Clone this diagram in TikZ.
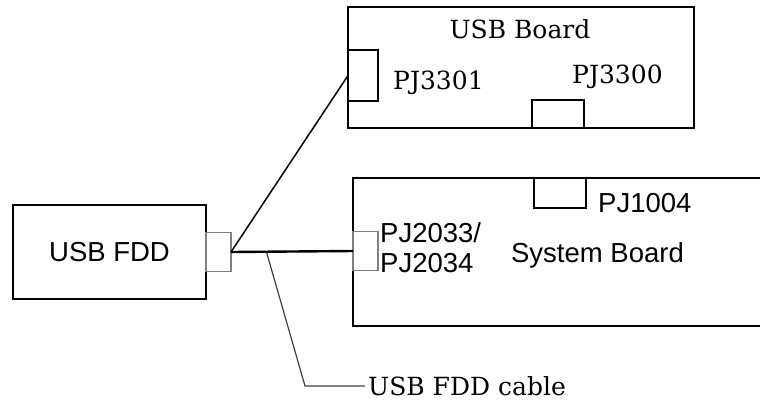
\documentclass[tikz,border=0pt]{standalone}
\usepackage{fontspec}
\newfontfamily\arialfont{Liberation Sans}
\newfontfamily\centfont{DejaVu Serif}
\usetikzlibrary{positioning,calc}
\tikzset{
  board/.style={rectangle, draw=black, line width=#1, fill=white, inner sep=0pt, outer sep=0pt},
  plug/.style={rectangle, draw=#1, line width=1.2pt, inner sep=0pt, outer sep=0pt},
  wire/.style={line width=#1, draw=black},
  lead/.style={line width=1.2pt, draw=black!75},
  sanslab/.style={font=\arialfont\fontsize{27.5}{31}\selectfont, inner sep=0pt},
  seriflab/.style={font=\centfont\fontsize{25}{29}\selectfont, inner sep=0pt},
}
\begin{document}
\begin{tikzpicture}[x=1pt, y=-1pt]
  \useasboundingbox (0,0) rectangle (760,402);
  \clip (0,0) rectangle (760,402);
  % floppy drive
  \node[board=2.8pt, minimum width=193pt, minimum height=94pt, sanslab] (fdd) at (109.5,252) {USB FDD};
  \node[plug=gray, minimum width=25pt, minimum height=39pt, anchor=west] (fddplug) at (fdd.east) {};
  % usb board
  \node[board=1.8pt, minimum width=346pt, minimum height=121pt] (usbb) at (521,67.5) {};
  \node[seriflab, anchor=base] (usbbname) at (520,38) {USB Board};
  \node[plug=black, minimum width=30pt, minimum height=51pt, anchor=north west] (pj3301) at (348,50) {};
  \node[seriflab, anchor=base west] (pj3301lab) at (393,89) {PJ3301};
  \node[plug=black, minimum width=52pt, minimum height=28pt, anchor=south west] (pj3300) at (532,128) {};
  \node[seriflab, anchor=base west] (pj3300lab) at (572,83) {PJ3300};
  % system board
  \node[board=2.8pt, minimum width=420pt, minimum height=148pt, anchor=north west] (sysb) at (353,178) {};
  \node[sanslab, anchor=base] (sysbname) at (597.5,262) {System Board};
  \node[plug=black, minimum width=52pt, minimum height=30pt, anchor=north west] (pj1004) at (534,178) {};
  \node[sanslab, anchor=base west] (pj1004lab) at (598,212) {PJ1004};
  \node[plug=gray, minimum width=25pt, minimum height=39pt, anchor=west] (sysplug) at (353,251) {};
  \node[sanslab, anchor=base west] (pj2033lab) at (380,242) {PJ2033/};
  \node[sanslab, anchor=base west] (pj2034lab) at (380,272) {PJ2034};
  % cable
  \draw[wire=2.4pt] (fddplug.east) -- (sysplug.west);
  \draw[wire=1.5pt] (fddplug.east) -- (pj3301.west);
  \coordinate (tap) at ($(fddplug.east)!0.29!(sysplug.west)$);
  \coordinate (bend) at (305,386);
  \node[seriflab, anchor=west, inner xsep=3pt] (cablelab) at (365,386) {USB FDD cable};
  \draw[lead] (tap) -- (bend) -- (cablelab.west);
\end{tikzpicture}
\end{document}
